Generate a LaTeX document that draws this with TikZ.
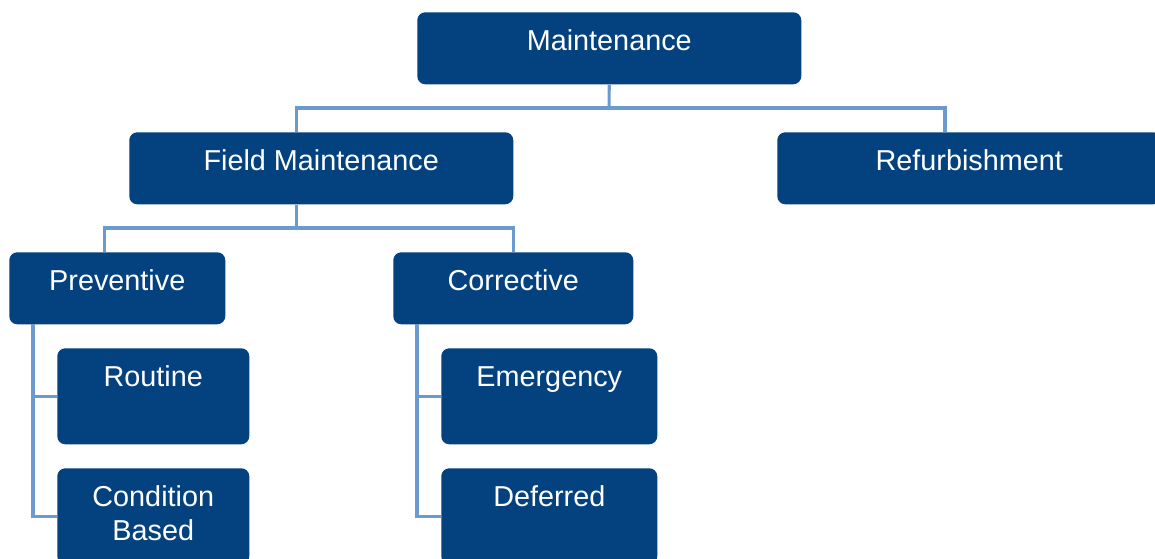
\documentclass[tikz,border=0pt]{standalone}
\usepackage{fontspec}
\setmainfont{Liberation Sans}
\usepackage{tikz}
\definecolor{navy}{RGB}{3,66,126}
\definecolor{treeblue}{RGB}{106,155,207}

\begin{document}
\begin{tikzpicture}[
x = 0.75pt, y = -0.75pt,
unitrect/.style={rectangle, align = center, anchor = north west,
fill = navy, text = white, rounded corners = 6pt,
font = \fontsize{21.6}{25.5}\selectfont,
inner xsep = 0pt, inner ysep = 13.5pt, text height = 15.5pt,
minimum height = 54pt, text depth = 11.5pt},
subrect/.style={unitrect, minimum height = 72pt, text depth = 29.5pt},
tworect/.style={subrect, text height = 41pt, text depth = 4pt},
treeline/.style={draw = treeblue, line width = 2.3pt}]

\useasboundingbox (0,0) rectangle (1155,559);

\node[unitrect, minimum width = 288pt] (MT) at (417,12) {Maintenance};
\node[unitrect, minimum width = 288pt] (FM) at (129,132) {Field Maintenance};
\node[unitrect, minimum width = 288pt] (RF) at (777,132) {Refurbishment};

\node[unitrect, minimum width = 162pt] (PV) at (9,252) {Preventive};
\node[unitrect, minimum width = 180pt] (CR) at (393,252) {Corrective};

\node[subrect, minimum width = 144pt] (RT) at (57,348) {Routine};
\node[tworect, minimum width = 144pt] (CB) at (57,468) {Condition\\Based};
\node[subrect, minimum width = 162pt] (EM) at (441,348) {Emergency};
\node[subrect, minimum width = 162pt] (DF) at (441,468) {Deferred};

% connection points
\coordinate (busA) at (609,108);
\coordinate (busB) at (296.5,228);
\coordinate (FMin) at (296.5,132);
\coordinate (RFin) at (945,132);
\coordinate (PVin) at (104.5,252);
\coordinate (PVout) at (33,324);
\coordinate (CRout) at (417,324);

\draw[treeline] (MT.south) -- (busA);
\draw[treeline] (FMin) |- (busA -| RFin) -- (RFin);
\draw[treeline] (FMin |- FM.south) -- (busB);
\draw[treeline] (PVin) |- (busB) -| (CR.north);

\draw[treeline] (PVout) |- (CB.west);
\draw[treeline] (PVout |- RT.west) -- (RT.west);
\draw[treeline] (CRout) |- (DF.west);
\draw[treeline] (CRout |- EM.west) -- (EM.west);

\end{tikzpicture}
\end{document}
